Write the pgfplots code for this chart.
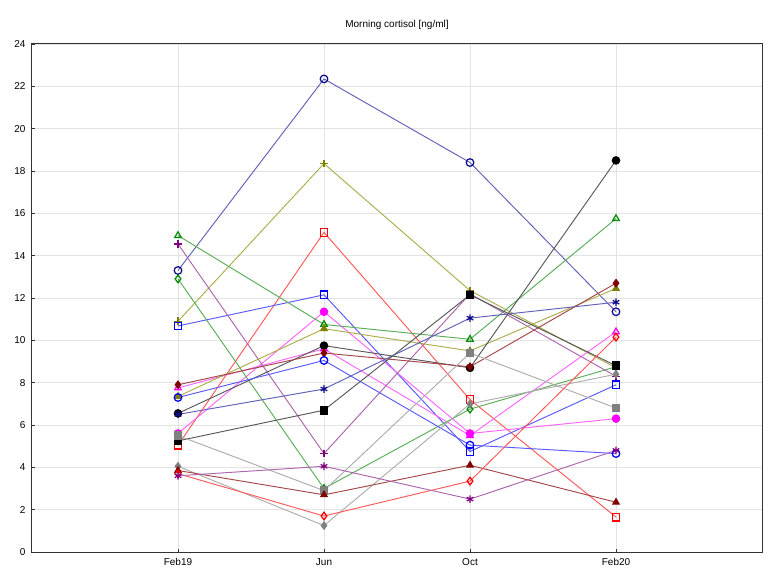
\documentclass[border=0pt]{standalone}
\usepackage{fontspec}
\setmainfont{Liberation Sans}
\usepackage{pgfplots}
\pgfplotsset{compat=1.18}
\definecolor{navyM}{rgb}{0.05,0.05,0.55}
\definecolor{navyL}{rgb}{0.38,0.38,0.72}
\definecolor{oliveM}{rgb}{0.5,0.5,0.0}
\definecolor{oliveL}{rgb}{0.68,0.68,0.3}
\definecolor{redM}{rgb}{1,0,0}
\definecolor{redL}{rgb}{1,0.35,0.35}
\definecolor{blueM}{rgb}{0,0,1}
\definecolor{blueL}{rgb}{0.35,0.35,1}
\definecolor{magM}{rgb}{1,0,1}
\definecolor{magL}{rgb}{1,0.4,1}
\definecolor{greenM}{rgb}{0,0.55,0}
\definecolor{greenL}{rgb}{0.35,0.68,0.35}
\definecolor{purM}{rgb}{0.5,0,0.5}
\definecolor{purL}{rgb}{0.68,0.4,0.68}
\definecolor{blkM}{rgb}{0,0,0}
\definecolor{blkL}{rgb}{0.35,0.35,0.35}
\definecolor{drM}{rgb}{0.5,0,0}
\definecolor{drL}{rgb}{0.65,0.28,0.28}
\definecolor{grM}{rgb}{0.5,0.5,0.5}
\definecolor{grL}{rgb}{0.68,0.68,0.68}
\begin{document}
\begin{tikzpicture}
\begin{axis}[
  scale only axis, width=730pt, height=508pt,
  xmin=-1, xmax=4, ymin=0, ymax=24,
  xtick={0,1,2,3}, xticklabels={Feb19,Jun,Oct,Feb20},
  ytick={0,2,...,24},
  grid=major, major grid style={gray!22, line width=0.6pt},
  axis line style={gray!40!black, line width=1pt},
  tick align=inside, tick pos=left,
  major tick length=3pt,
  tick style={gray!40!black, line width=0.8pt},
  ticklabel style={font=\fontsize{10}{12}\selectfont},
  yticklabel style={xshift=-3pt},
  xticklabel style={yshift=-3pt},
  /pgf/number format/assume math mode=true,
  every axis plot/.append style={line width=0.95pt, mark size=3.8pt},
  clip=false,
]
% navy open circle
\addplot[color=navyL, mark=o, mark options={draw=navyM, line width=1.25pt}] coordinates {(0,13.3) (1,22.35) (2,18.4) (3,11.35)};
% olive plus
\addplot[color=oliveL, mark=+, mark options={draw=oliveM, line width=1.25pt}] coordinates {(0,10.9) (1,18.35) (2,12.35) (3,8.7)};
% red open square
\addplot[color=redL, mark=square, mark options={draw=redM, line width=1.25pt}] coordinates {(0,5.05) (1,15.1) (2,7.2) (3,1.65)};
% blue open square
\addplot[color=blueL, mark=square, mark options={draw=blueM, line width=1.25pt}] coordinates {(0,10.68) (1,12.15) (2,4.75) (3,7.9)};
% magenta filled circle
\addplot[color=magL, mark=*, mark options={draw=magM, fill=magM}] coordinates {(0,5.6) (1,11.35) (2,5.6) (3,6.3)};
% magenta open triangle
\addplot[color=magL, mark=triangle, mark options={draw=magM, line width=1.25pt}] coordinates {(0,7.75) (1,9.6) (2,5.5) (3,10.4)};
% green open triangle
\addplot[color=greenL, mark=triangle, mark options={draw=greenM, line width=1.25pt}] coordinates {(0,14.95) (1,10.75) (2,10.05) (3,15.75)};
% green open diamond
\addplot[color=greenL, mark=diamond, mark options={draw=greenM, line width=1.25pt}] coordinates {(0,12.9) (1,3.0) (2,6.75) (3,8.75)};
% purple plus
\addplot[color=purL, mark=+, mark options={draw=purM, line width=1.25pt}] coordinates {(0,14.55) (1,4.65) (2,12.2) (3,8.3)};
% olive filled triangle
\addplot[color=oliveL, mark=triangle*, mark options={draw=oliveM, fill=oliveM}] coordinates {(0,7.35) (1,10.55) (2,9.5) (3,12.45)};
% black filled circle
\addplot[color=blkL, mark=*, mark options={draw=blkM, fill=blkM}] coordinates {(0,6.55) (1,9.75) (2,8.7) (3,18.5)};
% dark red filled diamond
\addplot[color=drL, mark=diamond*, mark options={draw=drM, fill=drM}] coordinates {(0,7.9) (1,9.4) (2,8.75) (3,12.7)};
% blue open circle
\addplot[color=blueL, mark=o, mark options={draw=blueM, line width=1.25pt}] coordinates {(0,7.3) (1,9.05) (2,5.05) (3,4.65)};
% navy asterisk
\addplot[color=navyL, mark=asterisk, mark options={draw=navyM, line width=1.25pt}] coordinates {(0,6.5) (1,7.7) (2,11.05) (3,11.8)};
% black filled square
\addplot[color=blkL, mark=square*, mark options={draw=blkM, fill=blkM}] coordinates {(0,5.25) (1,6.7) (2,12.15) (3,8.8)};
% gray filled diamond
\addplot[color=grL, mark=diamond*, mark options={draw=grM, fill=grM}] coordinates {(0,4.05) (1,1.25) (2,7.0) (3,8.4)};
% gray filled square
\addplot[color=grL, mark=square*, mark options={draw=grM, fill=grM}] coordinates {(0,5.5) (1,2.9) (2,9.4) (3,6.8)};
% dark red filled triangle
\addplot[color=drL, mark=triangle*, mark options={draw=drM, fill=drM}] coordinates {(0,3.85) (1,2.7) (2,4.1) (3,2.35)};
% red open diamond
\addplot[color=redL, mark=diamond, mark options={draw=redM, line width=1.25pt}] coordinates {(0,3.7) (1,1.7) (2,3.35) (3,10.15)};
% purple asterisk
\addplot[color=purL, mark=asterisk, mark options={draw=purM, line width=1.25pt}] coordinates {(0,3.6) (1,4.05) (2,2.5) (3,4.8)};
\end{axis}
\node[font=\fontsize{10}{12}\selectfont, anchor=center] at ([yshift=19pt]current axis.north) {Morning cortisol [ng/ml]};
\pgfresetboundingbox
\useasboundingbox ([xshift=-32pt,yshift=-34pt]current axis.south west) rectangle ([xshift=21pt,yshift=44pt]current axis.north east);
\end{tikzpicture}
\end{document}
